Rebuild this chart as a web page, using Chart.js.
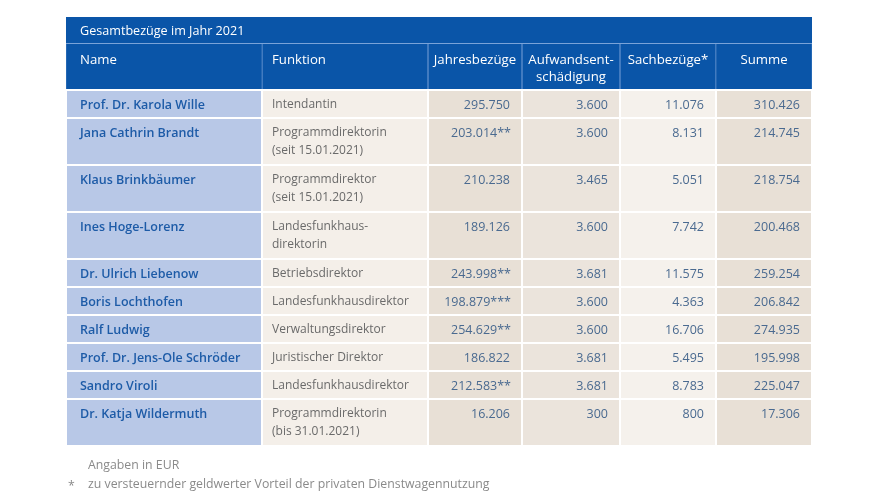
<!DOCTYPE html>
<html lang="de">

<head>
    <meta charset="UTF-8">
    <meta name="viewport" content="width=device-width, initial-scale=1.0">
    <script src="https://cdn.jsdelivr.net/npm/chart.js"></script>
    <title>Gesamtbezüge im Jahr 2021</title>
    <style>
        html, body { margin: 0; padding: 0; background: #ffffff; }
        .grafico-container { width: 882px; height: 496px; }
    </style>
</head>

<body>
    <div class="grafico-container">
        <canvas id="tabelle"></canvas>
    </div>

    <script>
        // Daten der Tabelle
        const titel = 'Gesamtbezüge im Jahr 2021';
        const spalten = [['Name'], ['Funktion'], ['Jahresbezüge'], ['Aufwandsent-', 'schädigung'], ['Sachbezüge*'], ['Summe']];
        const namen = ['Prof. Dr. Karola Wille', 'Jana Cathrin Brandt', 'Klaus Brinkbäumer', 'Ines Hoge-Lorenz',
            'Dr. Ulrich Liebenow', 'Boris Lochthofen', 'Ralf Ludwig', 'Prof. Dr. Jens-Ole Schröder',
            'Sandro Viroli', 'Dr. Katja Wildermuth'];
        const funktionen = [
            ['Intendantin'],
            ['Programmdirektorin', '(seit 15.01.2021)'],
            ['Programmdirektor', '(seit 15.01.2021)'],
            ['Landesfunkhaus-', 'direktorin'],
            ['Betriebsdirektor'],
            ['Landesfunkhausdirektor'],
            ['Verwaltungsdirektor'],
            ['Juristischer Direktor'],
            ['Landesfunkhausdirektor'],
            ['Programmdirektorin', '(bis 31.01.2021)']
        ];
        const jahresbezuege = [295750, 203014, 210238, 189126, 243998, 198879, 254629, 186822, 212583, 16206];
        const jahresFussnote = ['', '**', '', '', '**', '***', '**', '', '**', ''];
        const aufwand = [3600, 3600, 3465, 3600, 3681, 3600, 3600, 3681, 3681, 300];
        const sachbezuege = [11076, 8131, 5051, 7742, 11575, 4363, 16706, 5495, 8783, 800];
        const summe = [310426, 214745, 218754, 200468, 259254, 206842, 274935, 195998, 225047, 17306];
        const fussnoten = [['', 'Angaben in EUR'], ['*', 'zu versteuernder geldwerter Vorteil der privaten Dienstwagennutzung']];

        // Layout (Pixel-Einheiten der Tabelle)
        const spaltenKanten = [0, 196, 362, 456, 554, 650, 746];
        const titelHoehe = 26;
        const kopfHoehe = 45;
        const zeileEinfach = 28;
        const zeileDoppelt = 47;
        const blau = '#0a55a8';
        const spaltenFarben = ['#b8c8e7', '#f4efe9', '#e8e0d6', '#ebe4dc', '#f5f1ec', '#e8e0d6'];

        // Zeilen-Grenzen aus der Anzahl der Textzeilen
        const kopfEnde = titelHoehe + 1 + kopfHoehe + 2;
        const zeilenOben = [];
        const zeilenUnten = [];
        let pos = kopfEnde;
        funktionen.forEach(f => {
            zeilenOben.push(pos);
            pos += f.length > 1 ? zeileDoppelt : zeileEinfach;
            zeilenUnten.push(pos);
        });
        const tabellenHoehe = pos;

        function formatZahl(n) {
            return String(n).replace(/\B(?=(\d{3})+(?!\d))/g, '.');
        }

        const mitte = i => (spaltenKanten[i] + spaltenKanten[i + 1]) / 2;
        const breite = i => spaltenKanten[i + 1] - spaltenKanten[i];

        const datasets = [];
        // Hintergrund Kopf (hellblaue Trennlinien) - liegt unten
        datasets.push({ data: [{ x: spaltenKanten[6] / 2, y: [0, titelHoehe + 1 + kopfHoehe] }], backgroundColor: '#7aa3d8', barThickness: spaltenKanten[6], order: 2 });
        // Titelzeile
        datasets.push({ data: [{ x: spaltenKanten[6] / 2, y: [0, titelHoehe] }], backgroundColor: blau, barThickness: spaltenKanten[6], order: 1 });
        // Kopfzellen
        spalten.forEach((s, i) => {
            datasets.push({
                data: [{ x: mitte(i), y: [titelHoehe + 1, titelHoehe + 1 + kopfHoehe] }],
                backgroundColor: blau,
                barThickness: breite(i) - (i === 0 || i === 5 ? 0.5 : 1),
                order: 1
            });
        });
        // Tabellenzellen
        spalten.forEach((s, i) => {
            datasets.push({
                data: namen.map((n, r) => ({ x: mitte(i), y: [zeilenOben[r], zeilenUnten[r] - 2] })),
                backgroundColor: spaltenFarben[i],
                barThickness: breite(i) - 2,
                order: 1
            });
        });
        datasets.forEach(d => {
            d.stack = 'tabelle';
            d.borderWidth = 0;
            d.inflateAmount = 0;
        });

        const textPlugin = {
            id: 'tabellenText',
            afterDatasetsDraw(chart) {
                const ctx = chart.ctx;
                const x = chart.scales.x;
                const y = chart.scales.y;
                const px = v => x.getPixelForValue(v);
                const py = v => y.getPixelForValue(v);
                ctx.save();
                ctx.textBaseline = 'middle';

                // Titel
                ctx.fillStyle = '#ffffff';
                ctx.font = '12.6px "Open Sans"';
                ctx.textAlign = 'left';
                ctx.fillText(titel, px(14), py(titelHoehe / 2 + 1));

                // Spaltenköpfe
                ctx.font = '13.2px "Open Sans"';
                spalten.forEach((s, i) => {
                    s.forEach((t, l) => {
                        const ty = py(titelHoehe + 1 + 16 + l * 17);
                        if (i < 2) {
                            ctx.textAlign = 'left';
                            ctx.fillText(t, px(spaltenKanten[i] + (i === 0 ? 14 : 10)), ty);
                        } else {
                            ctx.textAlign = 'center';
                            ctx.fillText(t, px(mitte(i)), ty);
                        }
                    });
                });

                // Zeilen
                const werte = [jahresbezuege, aufwand, sachbezuege, summe];
                namen.forEach((n, r) => {
                    const y1 = py(zeilenOben[r] + 14);
                    ctx.textAlign = 'left';
                    ctx.fillStyle = '#1d5ba7';
                    ctx.font = '600 12.5px "Open Sans"';
                    ctx.fillText(n, px(14), y1);

                    ctx.fillStyle = '#6a6a6a';
                    ctx.font = '12px "Open Sans"';
                    funktionen[r].forEach((f, l) => {
                        ctx.fillText(f, px(spaltenKanten[1] + 10), py(zeilenOben[r] + 14 + l * 18));
                    });

                    ctx.textAlign = 'right';
                    ctx.fillStyle = '#4a6a90';
                    ctx.font = '12.5px "Open Sans"';
                    werte.forEach((w, k) => {
                        const rechts = px(spaltenKanten[k + 3] - 12);
                        let txt = formatZahl(w[r]);
                        if (k === 0 && jahresFussnote[r]) {
                            txt += jahresFussnote[r];
                            ctx.fillText(txt, rechts + 1, y1);
                        } else {
                            ctx.fillText(txt, rechts, y1);
                        }
                    });
                });

                // Fußnoten
                ctx.fillStyle = '#8a8a8a';
                ctx.font = '12.3px "Open Sans"';
                ctx.textAlign = 'left';
                fussnoten.forEach((f, i) => {
                    const fy = py(tabellenHoehe) + 18 + i * 19;
                    if (f[0]) ctx.fillText(f[0], px(2), fy + 2);
                    ctx.fillText(f[1], px(22), fy);
                });
                ctx.restore();
            }
        };

        const ctx = document.getElementById('tabelle').getContext('2d');
        new Chart(ctx, {
            type: 'bar',
            data: { datasets: datasets },
            options: {
                responsive: true,
                maintainAspectRatio: false,
                animation: false,
                events: [],
                layout: { padding: { left: 66, right: 882 - 66 - spaltenKanten[6], top: 17, bottom: 496 - 17 - tabellenHoehe } },
                plugins: { legend: { display: false }, tooltip: { enabled: false }, title: { display: false } },
                scales: {
                    x: { type: 'linear', min: 0, max: spaltenKanten[6], offset: false, display: false },
                    y: { type: 'linear', min: 0, max: tabellenHoehe, reverse: true, stacked: false, display: false }
                }
            },
            plugins: [textPlugin]
        });
    </script>
</body>

</html>
